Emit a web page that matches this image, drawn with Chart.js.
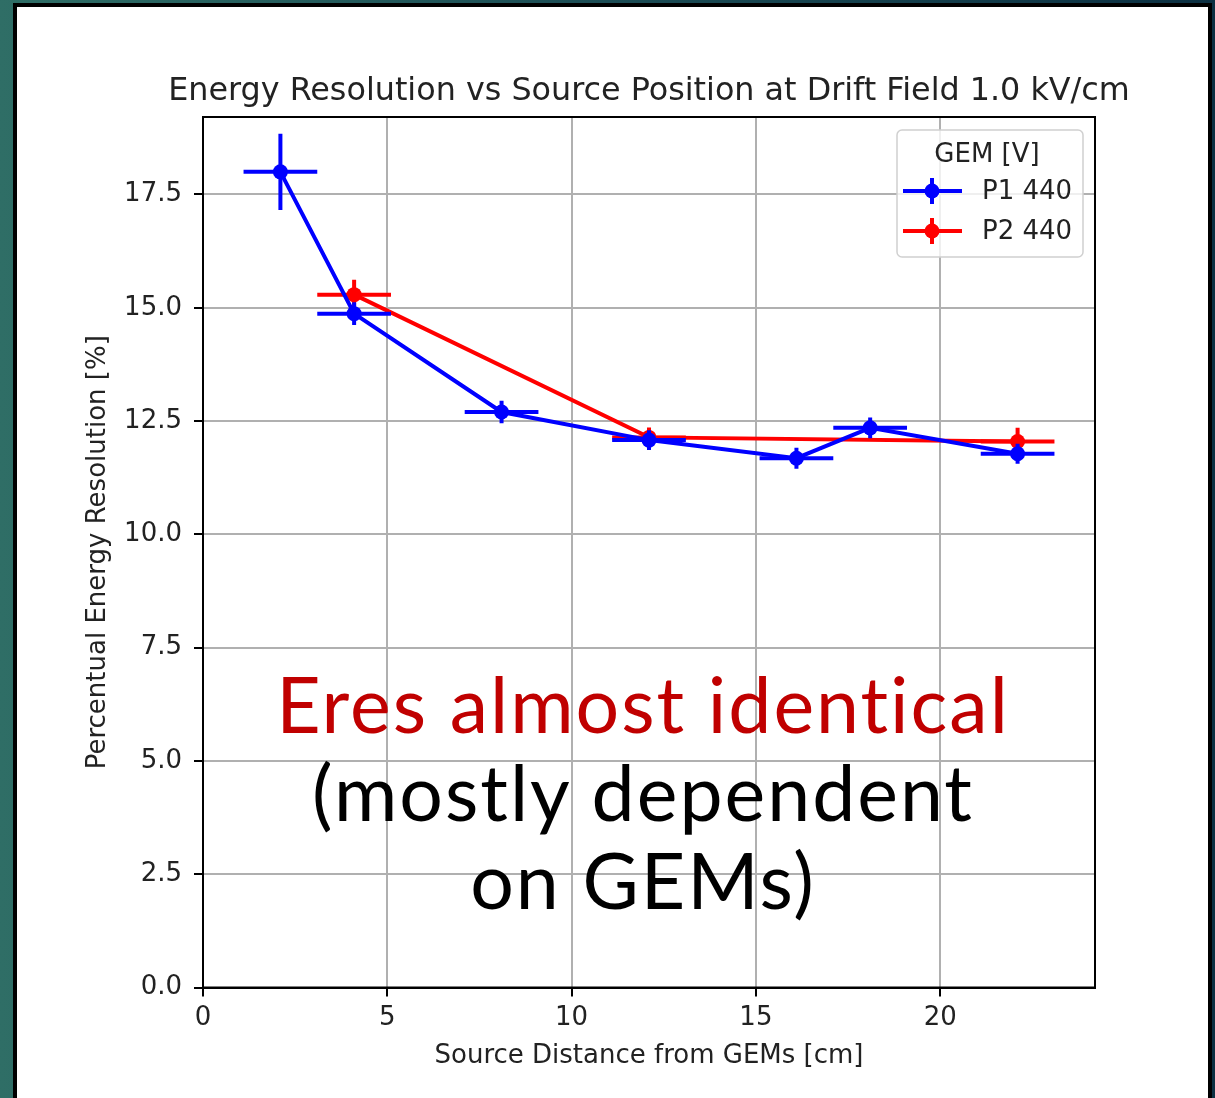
<!DOCTYPE html>
<html>
<head>
<meta charset="utf-8">
<script src="https://cdn.jsdelivr.net/npm/chart.js@4"></script>
<style>
  body {
    margin: 0;
    width: 1215px;
    height: 1098px;
    overflow: hidden;
    position: relative;
    background: linear-gradient(90deg, #2f6e66 0%, #1c4d55 50%, #0c3042 100%);
  }
  #slide {
    position: absolute;
    left: 13px;
    top: 3px;
    width: 1199px;
    height: 1200px;
    box-sizing: border-box;
    border: 4px solid #000;
    background: #fff;
  }
  #grafico {
    position: absolute;
    left: 0;
    top: 0;
  }
  #nota {
    position: absolute;
    left: 143px;
    top: 659px;
    width: 1000px;
    text-align: center;
    font-family: Lato, "Noto Sans", sans-serif;
    font-weight: 400;
    font-size: 77px;
    line-height: 88px;
    letter-spacing: 2px;
    color: #000;
  }
  #nota .rosso { color: #c00000; }
</style>
</head>
<body>
<div id="slide"></div>
<canvas id="grafico" width="1215" height="1098"></canvas>
<div id="nota"><span class="rosso">Eres almost identical</span><br>(mostly dependent<br>on GEMs)</div>

<script>
// P1 440 V
const xP1 = [2.1, 4.1, 8.1, 12.1, 16.1, 18.1, 22.1];
const yP1 = [18.0, 14.87, 12.70, 12.08, 11.68, 12.35, 11.78];
const xErrP1 = [1.0, 1.0, 1.0, 1.0, 1.0, 1.0, 1.0];
const yErrP1 = [0.84, 0.25, 0.25, 0.22, 0.23, 0.23, 0.22];

// P2 440 V
const xP2 = [4.1, 12.1, 22.1];
const yP2 = [15.29, 12.14, 12.05];
const xErrP2 = [1.0, 1.0, 1.0];
const yErrP2 = [0.33, 0.22, 0.30];

const xTicks = [0, 5, 10, 15, 20];
const yTicks = [0, 2.5, 5, 7.5, 10, 12.5, 15, 17.5];

const titolo = 'Energy Resolution vs Source Position at Drift Field 1.0 kV/cm';

const FONT = '"DejaVu Sans", sans-serif';
const TEXT = '#222';

const toPoints = (xs, ys) => xs.map((x, i) => ({ x: x, y: ys[i] }));

// horizontal + vertical error bars, no caps
const errorBars = {
  id: 'errorBars',
  afterDatasetDraw(chart, args) {
    const ds = chart.data.datasets[args.index];
    const sx = chart.scales.x;
    const sy = chart.scales.y;
    const ctx = chart.ctx;
    ctx.save();
    ctx.strokeStyle = ds.borderColor;
    ctx.lineWidth = 4;
    ds.data.forEach((p, i) => {
      const px = sx.getPixelForValue(p.x);
      const py = sy.getPixelForValue(p.y);
      ctx.beginPath();
      ctx.moveTo(sx.getPixelForValue(p.x - ds.xErr[i]), py);
      ctx.lineTo(sx.getPixelForValue(p.x + ds.xErr[i]), py);
      ctx.moveTo(px, sy.getPixelForValue(p.y - ds.yErr[i]));
      ctx.lineTo(px, sy.getPixelForValue(p.y + ds.yErr[i]));
      ctx.stroke();
    });
    ctx.restore();
  }
};

// title centred over the axes, top/right spines, legend box in the corner
const frameAndLegend = {
  id: 'frameAndLegend',
  afterDraw(chart) {
    const ctx = chart.ctx;
    const a = chart.chartArea;
    ctx.save();
    ctx.strokeStyle = '#000';
    ctx.lineWidth = 2;
    ctx.strokeRect(a.left, a.top, a.right - a.left, a.bottom - a.top);

    ctx.font = '31.8px ' + FONT;
    ctx.fillStyle = TEXT;
    ctx.textAlign = 'center';
    ctx.textBaseline = 'alphabetic';
    ctx.fillText(titolo, (a.left + a.right) / 2, a.top - 17);

    const w = 186, h = 127;
    const bx = a.right - 12 - w;
    const by = a.top + 13;
    ctx.beginPath();
    ctx.roundRect(bx, by, w, h, 5);
    ctx.fillStyle = 'rgba(255,255,255,0.8)';
    ctx.fill();
    ctx.strokeStyle = '#d0d0d0';
    ctx.lineWidth = 1.5;
    ctx.stroke();

    ctx.font = '26px ' + FONT;
    ctx.fillStyle = TEXT;
    ctx.textBaseline = 'middle';
    ctx.textAlign = 'center';
    ctx.fillText('GEM [V]', bx + w / 2 - 3, by + 25);

    ctx.textAlign = 'left';
    chart.data.datasets.forEach((ds, i) => {
      const ly = by + 61 + i * 40;
      const hx = bx + 35;
      ctx.strokeStyle = ds.borderColor;
      ctx.lineWidth = 4;
      ctx.beginPath();
      ctx.moveTo(bx + 6, ly);
      ctx.lineTo(bx + 65, ly);
      ctx.moveTo(hx, ly - 13);
      ctx.lineTo(hx, ly + 13);
      ctx.stroke();
      ctx.fillStyle = ds.borderColor;
      ctx.beginPath();
      ctx.arc(hx, ly, 7.5, 0, Math.PI * 2);
      ctx.fill();
      ctx.fillStyle = TEXT;
      ctx.fillText(ds.label, bx + 85, ly + 1);
    });
    ctx.restore();
  }
};

const makeDataset = (label, color, xs, ys, xErr, yErr) => ({
  label: label,
  data: toPoints(xs, ys),
  xErr: xErr,
  yErr: yErr,
  showLine: true,
  borderColor: color,
  backgroundColor: color,
  borderWidth: 4,
  pointRadius: 7.5,
  pointHoverRadius: 7.5,
  pointBorderWidth: 0,
  tension: 0
});

const grafico = document.getElementById('grafico');

const options = {
  responsive: false,
  animation: false,
  events: [],
  layout: {
    padding: { left: 83, right: 120, top: 117, bottom: 26 }
  },
  plugins: {
    legend: { display: false },
    tooltip: { enabled: false },
    title: { display: false }
  },
  scales: {
    x: {
      type: 'linear',
      min: 0,
      max: 24.2,
      afterBuildTicks: (s) => { s.ticks = xTicks.map(v => ({ value: v })); },
      afterFit: (s) => { s.height = 84.5; },
      ticks: {
        color: TEXT,
        font: { family: FONT, size: 26 },
        padding: 6,
        maxRotation: 0,
        callback: (v) => String(v)
      },
      grid: { color: '#b0b0b0', lineWidth: 2, tickLength: 9, tickColor: '#000', tickWidth: 2 },
      border: { color: '#000', width: 2 },
      title: {
        display: true,
        text: 'Source Distance from GEMs [cm]',
        color: TEXT,
        font: { family: FONT, size: 26 },
        padding: { top: 0, bottom: 0 }
      }
    },
    y: {
      type: 'linear',
      min: 0,
      max: 19.21,
      afterBuildTicks: (s) => { s.ticks = yTicks.map(v => ({ value: v })); },
      afterFit: (s) => { s.width = 120; },
      ticks: {
        color: TEXT,
        font: { family: FONT, size: 26 },
        padding: 12,
        callback: (v) => v.toFixed(1)
      },
      grid: { color: '#b0b0b0', lineWidth: 2, tickLength: 9, tickColor: '#000', tickWidth: 2 },
      border: { color: '#000', width: 2 },
      title: {
        display: true,
        text: 'Percentual Energy Resolution [%]',
        color: TEXT,
        font: { family: FONT, size: 26 },
        padding: { top: 0, bottom: 0 }
      }
    }
  }
};

const myChart = new Chart(grafico, {
  type: 'scatter',
  data: {
    datasets: [
      makeDataset('P1 440', '#0000ff', xP1, yP1, xErrP1, yErrP1),
      makeDataset('P2 440', '#ff0000', xP2, yP2, xErrP2, yErrP2)
    ]
  },
  options: options,
  plugins: [errorBars, frameAndLegend]
});
</script>
</body>
</html>
